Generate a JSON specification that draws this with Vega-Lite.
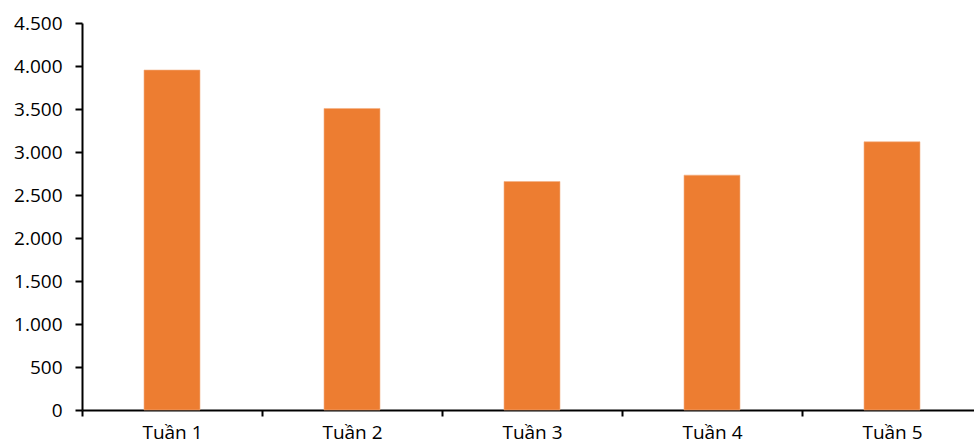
{
  "$schema": "https://vega.github.io/schema/vega-lite/v6.json",
  "autosize": "none",
  "padding": {"left": 82, "top": 23, "right": 0, "bottom": 38},
  "width": 892,
  "height": 387,
  "background": "white",
  "data": {"values": [
    {"week": "Tuần 1", "value": 3953},
    {"week": "Tuần 2", "value": 3506},
    {"week": "Tuần 3", "value": 2657},
    {"week": "Tuần 4", "value": 2731},
    {"week": "Tuần 5", "value": 3119}
  ]},
  "mark": {"type": "bar", "color": "#ED7D31", "width": {"band": 0.311}, "stroke": "#F4B084", "strokeWidth": 0.6},
  "encoding": {
    "x": {
      "field": "week", "type": "nominal", "sort": null,
      "scale": {"paddingInner": 0, "paddingOuter": 0, "range": [0, 900]},
      "axis": {"title": null, "labelAngle": 0, "tickBand": "extent", "domainColor": "black", "domainWidth": 2, "tickColor": "black", "tickWidth": 2, "tickSize": 6, "labelPadding": 7, "labelFont": "Open Sans", "labelFontSize": 19, "labelColor": "black"}
    },
    "y": {
      "field": "value", "type": "quantitative",
      "scale": {"domain": [0, 4500], "nice": false},
      "axis": {"title": null, "values": [0, 500, 1000, 1500, 2000, 2500, 3000, 3500, 4000, 4500], "grid": false, "labelExpr": "replace(format(datum.value, ','), ',', '.')", "domainColor": "black", "domainWidth": 2, "tickColor": "black", "tickWidth": 2, "tickSize": 7, "labelPadding": 13, "labelFont": "Open Sans", "labelFontSize": 19, "labelColor": "black"}
    }
  },
  "config": {"view": {"stroke": null}}
}
